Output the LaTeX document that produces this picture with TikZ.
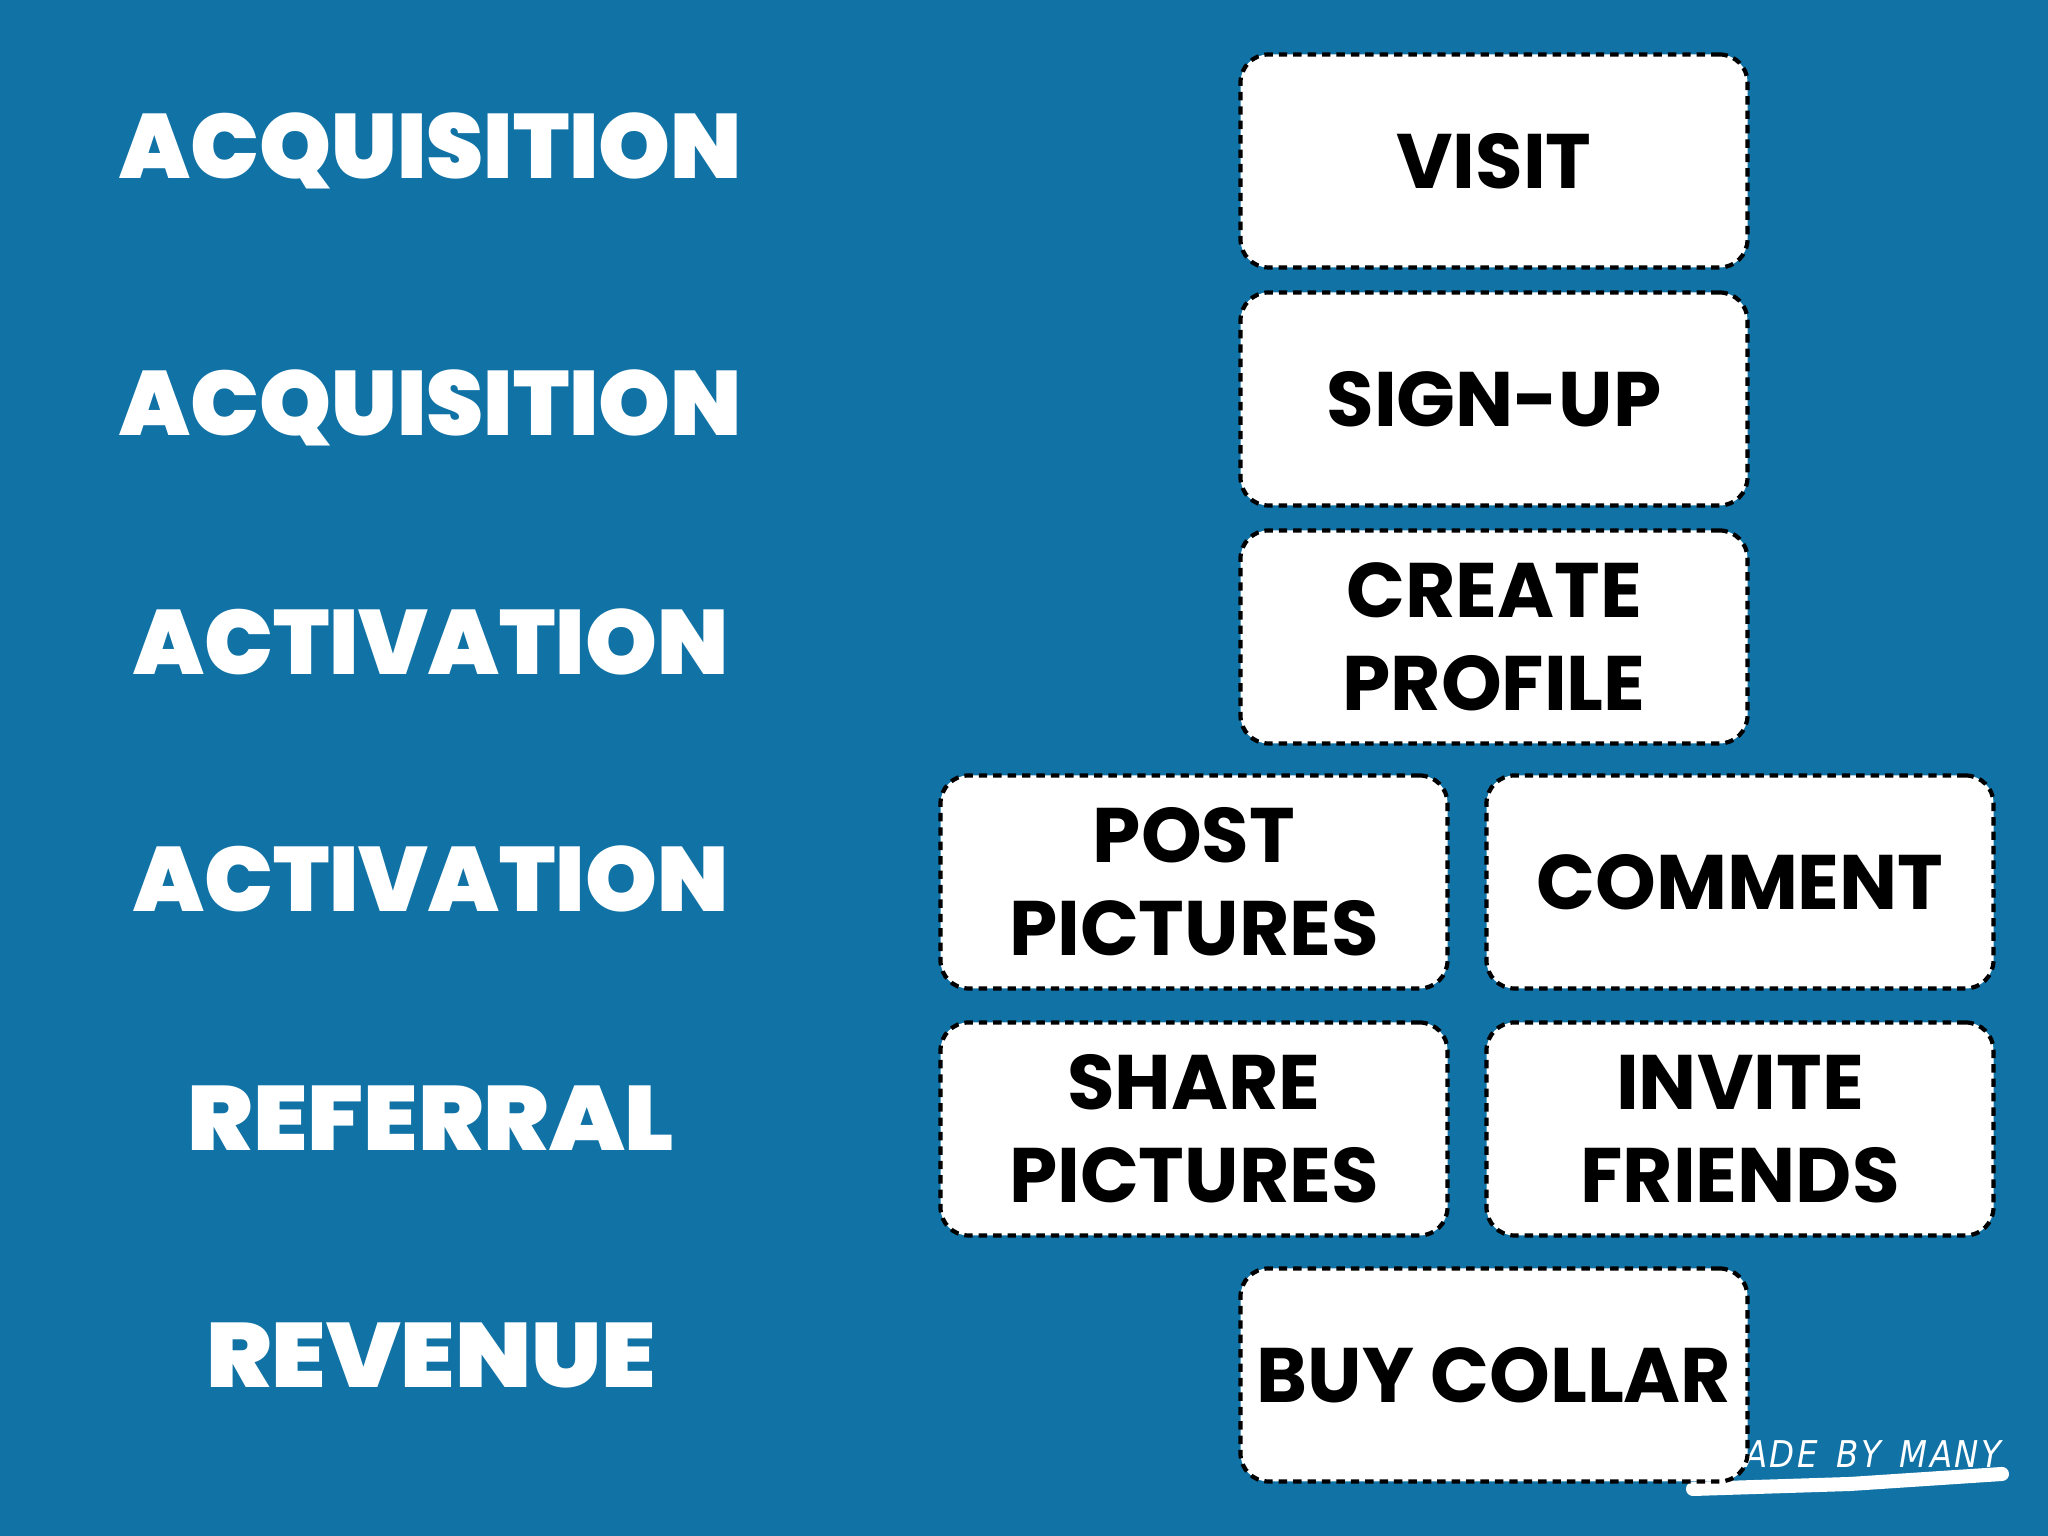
\documentclass[tikz,border=0pt]{standalone}
\usepackage{fontspec}
\setmainfont{Poppins}
\newfontfamily\heavyfont{Poppins Black}
\newfontfamily\logofont{DejaVu Sans}
\definecolor{slideblue}{RGB}{17,114,165}

\begin{document}
\begin{tikzpicture}[
        stage/.style={anchor=base, text=white, font=\heavyfont\fontsize{26}{30}\selectfont},
        wide/.style={transform shape, xscale=1.07},
        card/.style={draw=black, fill=white, line width=1.2pt, dash pattern=on 2.4pt off 1.7pt,
            rounded corners=0.28cm, minimum width=5.07cm, minimum height=2.13cm,
            inner sep=0pt, outer sep=0pt, align=center,
            font=\fontsize{22}{26.5}\selectfont\bfseries}
    ]
        \fill[slideblue] (0, 0) rectangle (20.48, 15.36);
        \useasboundingbox (0, 0) rectangle (20.48, 15.36);

        % stage names
        \node[stage] (s0) at (4.31, 13.57) {ACQUISITION};
        \node[stage] (s1) at (4.31, 11.00) {ACQUISITION};
        \node[stage] (s2) at (4.31, 8.61) {ACTIVATION};
        \node[stage] (s3) at (4.31, 6.24) {ACTIVATION};
        \node[stage, wide] (s4) at (4.31, 3.85) {REFERRAL};
        \node[stage, wide] (s5) at (4.31, 1.48) {REVENUE};

        % logo, partly under the last card
        \node[anchor=base east, inner sep=0pt, text=white, font=\logofont\fontsize{10.5}{12}\selectfont\itshape] (logo) at (20.02, 0.68)
            {\scalebox{0.88}[1]{M\kern0.8pt A\kern0.8pt D\kern0.8pt E\kern6pt B\kern0.8pt Y\kern6pt M\kern0.8pt A\kern0.8pt N\kern0.8pt Y}};
        \draw[white, line width=4pt, line cap=round] (16.93, 0.47) -- (18.5, 0.52) -- (20.02, 0.62);

        % actions
        \node[card] (visit) at (14.94, 13.75) {VISIT};
        \node[card] (signup) at (14.94, 11.37) {SIGN-UP};
        \node[card] (profile) at (14.94, 8.99) {CREATE\\PROFILE};
        \node[card] (post) at (11.94, 6.54) {POST\\PICTURES};
        \node[card] (comment) at (17.40, 6.54) {COMMENT};
        \node[card] (share) at (11.94, 4.07) {SHARE\\PICTURES};
        \node[card] (invite) at (17.40, 4.07) {INVITE\\FRIENDS};
        \node[card] (buy) at (14.94, 1.61) {BUY COLLAR};
    \end{tikzpicture}
\end{document}
